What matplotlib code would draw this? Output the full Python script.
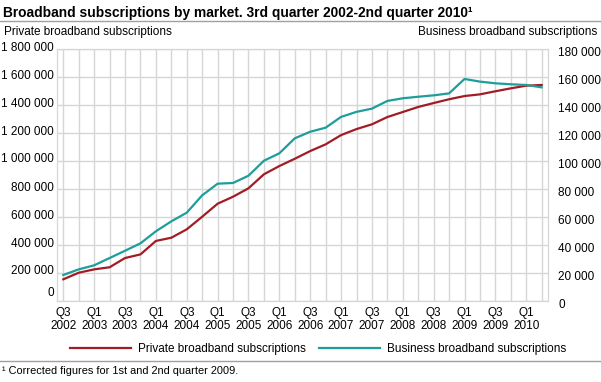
import matplotlib
matplotlib.use("Agg")
import matplotlib.pyplot as plt
import matplotlib.transforms as mtransforms
from matplotlib.lines import Line2D

plt.rcParams['font.family'] = ['Liberation Sans', 'DejaVu Sans']

# quarters Q3 2002 .. Q2 2010
quarters = ["Q3", "Q4", "Q1", "Q2"] * 8
years = [2002, 2002] + [y for y in range(2003, 2010) for _ in range(4)] + [2010, 2010]
private = [155000, 202000, 226000, 241000, 307000, 333000, 429000, 452000,
           512000, 602000, 695000, 745000, 805000, 905000, 964000, 1016000,
           1071000, 1119000, 1185000, 1228000, 1262000, 1314000, 1350000, 1386000,
           1414000, 1441000, 1464000, 1476000, 1498000, 1519000, 1538000, 1543000]
business = [18600, 22600, 25500, 30700, 35900, 41200, 49800, 56900,
            63100, 75500, 83800, 84300, 89500, 100200, 105500, 116200,
            120900, 123800, 131500, 135100, 137400, 142900, 144800, 145900,
            146900, 148300, 158600, 156700, 155500, 154800, 154300, 152600]
left_ticks = list(range(0, 1800001, 200000))
right_ticks = list(range(0, 180001, 20000))

RED = "#a21c26"
TEAL = "#1d9e9a"
GRID = "#d6d6d6"
FS = 8.5

def fmt(v):
    return f"{v:,}".replace(",", " ")

W, H = 601, 382
fig = plt.figure(figsize=(W / 100, H / 100), dpi=100)
ax = fig.add_axes([57 / W, 1 - 301 / H, 491.3 / W, 252 / H])
ax2 = ax.twinx()

x = list(range(len(private)))
ax.plot(x, private, color=RED, lw=1.6, zorder=3)
ax2.plot(x, business, color=TEAL, lw=1.6, zorder=3)

ax.set_xlim(-0.41, 31.43)
ax.set_ylim(0, 1800000)
ax2.set_ylim(0, 180000)

ax.set_xticks(x, minor=True)
ax.set_xticks(x[::2])
ax.set_xticklabels([f"{q}\n{y}" for q, y in zip(quarters[::2], years[::2])],
                   fontsize=FS, linespacing=1.15)
ax.grid(True, which="both", axis="x", color=GRID, lw=1)
ax.grid(True, which="major", axis="y", color=GRID, lw=1)
ax.set_axisbelow(True)

ax.set_yticks(left_ticks)
ax.set_yticklabels([fmt(v) for v in left_ticks], fontsize=FS)
ax2.set_yticks(right_ticks)
ax2.set_yticklabels([fmt(v) for v in right_ticks], fontsize=FS)

ax.tick_params(axis="both", which="both", length=0)
ax2.tick_params(axis="both", which="both", length=0)
ax.tick_params(axis="x", pad=4)
ax.tick_params(axis="y", pad=2)
ax2.tick_params(axis="y", pad=7)

for a in (ax, ax2):
    for s in a.spines.values():
        s.set_color(GRID)

# left labels sit a bit above their gridlines, the zero label even more
for i, lab in enumerate(ax.get_yticklabels()):
    dy = 9 if i == 0 else 3
    lab.set_transform(lab.get_transform() +
                      mtransforms.ScaledTranslation(0, dy / 100, fig.dpi_scale_trans))
for lab in ax2.get_yticklabels():
    lab.set_transform(lab.get_transform() +
                      mtransforms.ScaledTranslation(0, -2 / 100, fig.dpi_scale_trans))

# header
fig.text(3 / W, 1 - 12.7 / H, "Broadband subscriptions by market. 3rd quarter 2002-2nd quarter 2010¹",
         fontsize=9.9, fontweight="bold", va="center", ha="left")
fig.add_artist(Line2D([0, 1], [1 - 20.5 / H] * 2, color="#a0a0a0", lw=1))
fig.text(4 / W, 1 - 31.7 / H, "Private broadband subscriptions", fontsize=FS, va="center", ha="left")
fig.text(597 / W, 1 - 31.7 / H, "Business broadband subscriptions", fontsize=FS, va="center", ha="right")

# legend
handles = [Line2D([], [], color=RED, lw=1.6), Line2D([], [], color=TEAL, lw=1.6)]
fig.legend(handles, ["Private broadband subscriptions", "Business broadband subscriptions"],
           loc="center left", bbox_to_anchor=(70 / W, 1 - 349.3 / H), ncol=2, frameon=False,
           fontsize=FS, handlelength=5.2, handletextpad=0.55, columnspacing=1.1,
           borderpad=0, borderaxespad=0)

# footnote
fig.add_artist(Line2D([0, 1], [1 - 361 / H] * 2, color="#a0a0a0", lw=1))
fig.text(2 / W, 1 - 371 / H, "¹ Corrected figures for 1st and 2nd quarter 2009.",
         fontsize=7.9, va="center", ha="left")

fig.savefig("out.png", dpi=100)
